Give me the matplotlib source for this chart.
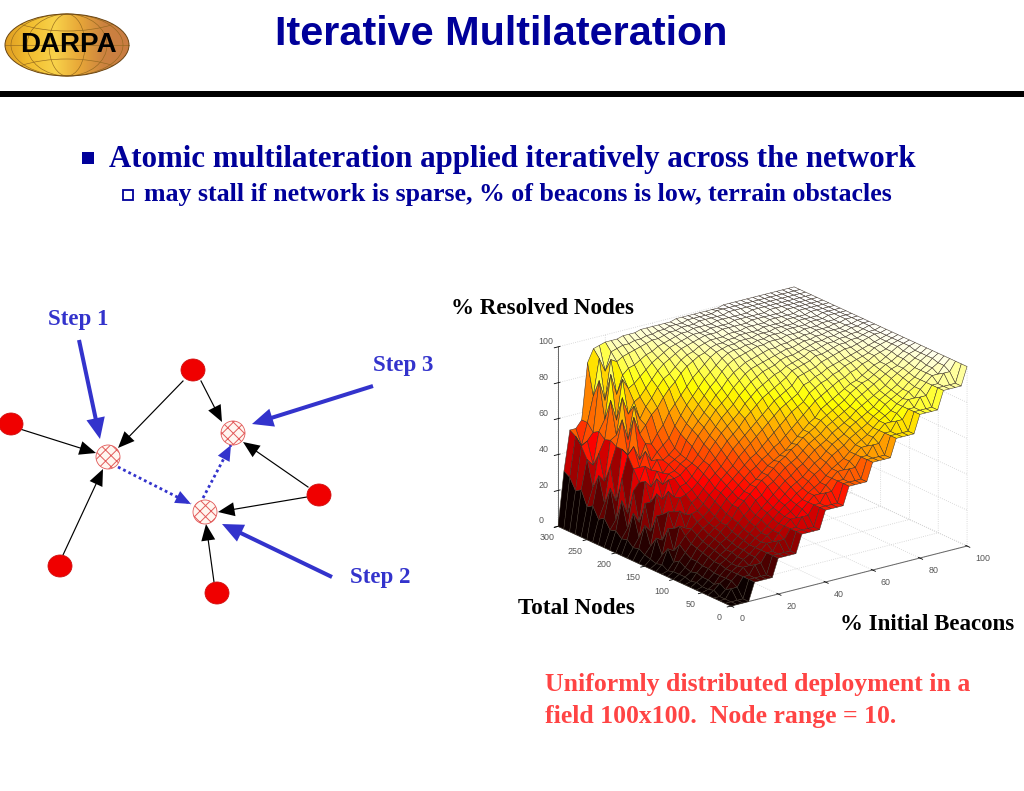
import numpy as np
import matplotlib
matplotlib.use("Agg")
import matplotlib.pyplot as plt
from matplotlib.patches import Ellipse, Rectangle
from mpl_toolkits.mplot3d import proj3d

# ------------------- data -------------------
title = "Iterative Multilateration"
bullet_main = "Atomic multilateration applied iteratively across the network"
bullet_sub = "may stall if network is sparse, % of beacons is low, terrain obstacles"
note_lines = ["Uniformly distributed deployment in a", "field 100x100.  Node range = 10."]

beacons_pct = [i * 2.5 for i in range(41)]
total_nodes = list(range(0, 301, 10))
resolved_pct = [
 [0, 0,0,0,10, 10,10,10,20, 20,20,20,30, 30,30,30,40, 40,40,40,50, 50,50,50,60, 60,60,60,70, 70,70,70,80, 80,80,80,90, 90,90,90,100],
 [0, 0,0,0,10, 10,10,10,20, 20,20,20,30, 30,30,30,40, 40,40,40,50, 50,50,50,60, 60,60,60,70, 70,70,70,80, 80,80,80,90, 90,90,90,100],
 [0, 0,5,5,10, 10,15,15,20, 20,25,25,30, 30,35,35,40, 40,45,45,50, 50,55,55,60, 60,65,65,70, 70,75,75,80, 80,85,85,90, 90,95,95,100],
 [0, 0,3,7,10, 13,13,17,20, 23,23,27,30, 33,33,37,40, 43,43,47,50, 53,53,57,60, 63,63,67,70, 73,73,77,80, 83,83,87,90, 93,93,97,100],
 [0, 2,5,7,10, 12,15,17,20, 22,25,27,30, 33,35,38,40, 43,45,47,50, 53,55,57,60, 63,65,67,70, 73,75,77,80, 82,85,87,90, 93,95,97,100],
 [0, 1,3,7,10, 12,15,18,20, 23,25,28,31, 34,37,39,42, 44,47,50,52, 55,58,60,62, 65,67,69,71, 74,76,79,81, 83,85,88,90, 93,95,98,100],
 [0, 1,4,7,11, 13,16,18,21, 24,27,30,33, 35,38,41,44, 46,48,51,54, 56,59,62,64, 66,69,71,73, 75,77,80,82, 84,86,89,91, 93,96,98,100],
 [0, 2,4,8,11, 14,16,19,22, 25,28,31,34, 37,40,43,46, 48,51,53,56, 59,61,63,66, 68,70,72,75, 77,79,81,83, 85,88,90,92, 94,96,98,100],
 [0, 1,5,8,12, 15,18,20,23, 27,30,33,37, 39,43,45,48, 51,53,55,58, 61,63,65,68, 70,72,74,76, 79,81,83,85, 87,89,91,92, 95,97,98,100],
 [0, 2,4,9,13, 16,19,22,25, 28,33,36,39, 42,45,47,50, 53,55,58,60, 63,65,67,70, 72,74,76,78, 81,83,85,86, 88,90,92,93, 95,97,99,100],
 [0, 2,5,9,14, 17,20,23,25, 29,33,36,39, 42,44,47,50, 52,54,56,59, 62,65,68,70, 74,76,78,80, 82,84,85,87, 89,91,92,94, 96,98,99,100],
 [0, 2,7,11,15, 19,22,24,27, 31,35,38,41, 44,47,49,52, 54,57,59,62, 65,68,71,74, 77,79,81,83, 85,86,88,89, 91,92,94,95, 96,98,99,100],
 [0, 1,5,14,18, 21,24,26,29, 33,37,40,43, 46,49,52,54, 57,60,63,66, 69,72,74,76, 80,82,84,85, 87,88,90,91, 92,93,94,96, 97,98,99,100],
 [0, 3,11,9,22, 20,27,28,31, 35,38,42,45, 48,52,55,58, 61,64,67,70, 73,75,77,79, 83,84,86,87, 89,90,91,92, 93,94,95,96, 97,98,99,100],
 [0, 2,6,20,19, 28,25,31,33, 37,41,44,47, 51,55,58,61, 64,67,70,73, 76,78,80,82, 86,87,88,89, 91,92,93,94, 95,95,96,97, 98,99,99,100],
 [0, 3,14,12,27, 26,33,34,36, 39,43,47,50, 54,58,61,64, 68,71,74,77, 79,81,83,85, 88,89,90,91, 93,93,94,95, 96,96,97,97, 98,99,99,100],
 [0, 4,8,24,24, 36,32,37,38, 41,45,48,53, 57,61,64,67, 70,74,77,80, 82,84,86,87, 89,90,91,92, 94,94,95,96, 96,97,97,98, 98,99,100,100],
 [0, 6,18,14,34, 30,40,40,41, 44,46,50,55, 59,63,67,70, 73,77,80,83, 85,87,88,89, 91,92,92,93, 94,95,96,96, 97,97,98,98, 99,99,100,100],
 [0, 5,10,28,28, 40,36,41,42, 45,47,53,58, 62,66,70,73, 76,80,83,86, 88,89,90,91, 92,93,94,94, 95,96,96,97, 97,98,98,98, 99,99,100,100],
 [0, 8,22,16,38, 34,42,40,44, 46,48,55,60, 64,68,72,76, 79,83,86,88, 90,91,92,93, 94,94,95,95, 96,96,97,97, 98,98,98,99, 99,100,100,100],
 [0, 7,12,32,36, 44,41,46,45, 47,50,57,62, 67,71,75,79, 82,86,89,91, 92,93,94,95, 95,96,96,96, 97,97,97,98, 98,98,99,99, 99,100,100,100],
 [0, 10,26,18,42, 42,50,44,48, 51,54,60,65, 70,74,78,82, 85,88,91,93, 94,94,95,95, 96,96,97,97, 97,98,98,98, 98,99,99,99, 100,100,100,100],
 [0, 9,14,36,48, 52,44,52,51, 56,60,66,70, 74,78,82,85, 88,91,93,94, 95,95,96,96, 96,97,97,97, 98,98,98,98, 99,99,99,99, 100,100,100,100],
 [0, 14,30,22,50, 46,66,56,60, 65,68,73,77, 80,84,87,89, 91,92,94,95, 95,96,96,97, 97,97,97,98, 98,98,98,99, 99,99,99,100, 100,100,100,100],
 [0, 12,20,40,50, 64,52,70,62, 68,72,77,81, 83,86,89,91, 92,94,95,96, 96,96,97,97, 97,98,98,98, 98,99,99,99, 99,99,100,100, 100,100,100,100],
 [0, 18,34,30,52, 54,74,64,70, 72,76,80,84, 87,89,91,93, 94,95,96,97, 97,97,98,98, 98,98,98,99, 99,99,99,99, 99,100,100,100, 100,100,100,100],
 [0, 16,26,44,51, 72,60,82,76, 78,81,84,87, 89,91,93,94, 95,96,97,97, 97,98,98,98, 98,99,99,99, 99,99,99,100, 100,100,100,100, 100,100,100,100],
 [0, 24,40,36,54, 60,84,72,82, 85,86,88,90, 91,93,94,95, 96,97,97,98, 98,98,98,99, 99,99,99,99, 99,100,100,100, 100,100,100,100, 100,100,100,100],
 [0, 22,46,48,52, 80,68,90,88, 90,91,92,93, 94,95,95,96, 97,97,98,98, 98,99,99,99, 99,99,100,100, 100,100,100,100, 100,100,100,100, 100,100,100,100],
 [0, 28,50,44,56, 70,90,82,92, 93,94,94,95, 95,96,96,97, 97,98,98,98, 99,99,99,99, 99,100,100,100, 100,100,100,100, 100,100,100,100, 100,100,100,100],
 [0, 30,52,52,56, 87,94,95,96, 96,96,97,97, 97,98,98,98, 98,98,98,99, 99,99,99,99, 99,99,99,100, 100,100,100,100, 100,100,100,100, 100,100,100,100],
]

# network diagram (slide pixels)
anchor_nodes = [(193, 370), (11, 424), (319, 495), (60, 566), (217, 593)]
unknown_nodes = [(108, 457), (233, 433), (205, 512)]
black_links = [((183, 381), (118, 448)), ((201, 381), (222, 422)), ((20, 429), (96, 453)),
               ((63, 555), (103, 469)), ((308, 487), (243, 442)), ((307, 497), (218, 512)),
               ((214, 582), (206, 524))]
dotted_links = [((118, 467), (191, 504)), ((203, 498), (231, 445))]
step_arrows = [((79, 340), (100, 439)), ((373, 386), (252, 424)), ((332, 577), (222, 524))]
step_labels = [("Step 1", 48, 320), ("Step 3", 373, 366), ("Step 2", 350, 578)]

NAVY = "#00009A"
BLUE = "#3333CC"
SERIF = "Liberation Serif"
SANS = "Liberation Sans"

plt.rcParams["grid.color"] = "#cfcfcf"
plt.rcParams["grid.linestyle"] = ":"
plt.rcParams["grid.linewidth"] = 0.6
plt.rcParams["hatch.linewidth"] = 0.7

W, H = 1024, 791
fig = plt.figure(figsize=(W / 100, H / 100), dpi=100, facecolor="white")

# ------------------- slide layer -------------------
s = fig.add_axes([0, 0, 1, 1])
s.set_xlim(0, W)
s.set_ylim(H, 0)
s.axis("off")

s.text(501, 34, title, family=SANS, weight="bold", size=29.8, color=NAVY, ha="center", va="center")
s.add_patch(Rectangle((0, 91), W, 5.5, fc="black", ec="none"))

# logo
grad = np.linspace(0, 1, 128)[None, :]
logo_cmap = matplotlib.colors.LinearSegmentedColormap.from_list(
    "logo", ["#E09E22", "#F2BE30", "#F8D24A", "#E8A838", "#CC8240", "#C97C42"])
logo = Ellipse((67, 45), 124, 62, fc="none", ec="#6a4512", lw=0.7, zorder=3)
s.add_patch(logo)
img = s.imshow(grad, extent=(5, 129, 76, 14), cmap=logo_cmap, aspect="auto", zorder=2)
img.set_clip_path(logo)
s.set_xlim(0, W)
s.set_ylim(H, 0)
GRID = "#94691f"
for wd in (36, 80, 112):
    s.add_patch(Ellipse((67, 45), wd, 62, fc="none", ec=GRID, lw=0.45, zorder=2.5))
for dy, hh in ((-36, 44), (36, 44)):
    e = Ellipse((67, 45 + dy), 128, hh, fc="none", ec=GRID, lw=0.45, zorder=2.5)
    s.add_patch(e)
    e.set_clip_path(logo)
s.plot([5, 129], [45, 45], color=GRID, lw=0.45, zorder=2.5)
s.text(68, 45, "DARPA", family=SANS, weight="bold", size=20, color="black", ha="center", va="center", zorder=4)

# bullets
s.add_patch(Rectangle((82, 152), 12, 12, fc=NAVY, ec="none"))
s.text(109, 160, bullet_main, family=SERIF, weight="bold", size=22.2, color=NAVY, ha="left", va="center")
s.add_patch(Rectangle((123, 190), 10, 10, fc="none", ec=NAVY, lw=1.3))
s.text(144, 195, bullet_sub, family=SERIF, weight="bold", size=18.6, color=NAVY, ha="left", va="center")


def head(p0, p1, color, scale, hl, hw):
    s.annotate("", xy=p1, xytext=p0,
               arrowprops=dict(arrowstyle=f"-|>,head_length={hl},head_width={hw}", color=color, lw=0,
                               shrinkA=0, shrinkB=0, mutation_scale=scale))


# network
for (x0, y0), (x1, y1) in black_links:
    s.plot([x0, x1 - (x1 - x0) * 0.1], [y0, y1 - (y1 - y0) * 0.1], color="black", lw=0.85)
    head((x0, y0), (x1, y1), "black", 14, 0.85, 0.36)
for (x0, y0), (x1, y1) in dotted_links:
    s.plot([x0, x1], [y0, y1], color=BLUE, lw=2.0, ls=(0, (1, 1.1)))
    head((x0 + (x1 - x0) * 0.75, y0 + (y1 - y0) * 0.75), (x1, y1), BLUE, 14, 0.8, 0.34)
for (x0, y0), (x1, y1) in step_arrows:
    s.plot([x0, x1 - (x1 - x0) * 0.1], [y0, y1 - (y1 - y0) * 0.1], color=BLUE, lw=2.9, solid_capstyle="butt")
    head((x0, y0), (x1, y1), BLUE, 16, 0.95, 0.42)
for cx, cy in anchor_nodes:
    s.add_patch(Ellipse((cx, cy), 24, 22, fc="#F00000", ec="#D01010", lw=0.6, zorder=5))
for cx, cy in unknown_nodes:
    s.add_patch(Ellipse((cx, cy), 24, 24, fc="#FFF6F0", ec="#E25A5A", hatch="xxx", lw=0.6, zorder=5))
for lab, lx, ly in step_labels:
    s.text(lx, ly, lab, family=SERIF, weight="bold", size=16.5, color=BLUE, ha="left", va="center")

# labels
s.text(451, 309, "% Resolved Nodes", family=SERIF, weight="bold", size=16.6, color="black", ha="left", va="center")
s.text(518, 608, "Total Nodes", family=SERIF, weight="bold", size=16.7, color="black", ha="left", va="center", zorder=6)
s.text(840, 624, "% Initial Beacons", family=SERIF, weight="bold", size=16.5, color="black", ha="left", va="center")
for line, ly in zip(note_lines, (684, 717)):
    s.text(545, ly, line, family=SERIF, weight="bold", size=18.5, color="#FF4444", ha="left", va="center")

# ------------------- 3D surface -------------------
X, Y = np.meshgrid(beacons_pct, total_nodes)
Z = np.array(resolved_pct, dtype=float)

S0 = 520
ax = fig.add_axes([0.5, 0.2, S0 / W, S0 / H], projection="3d", proj_type="ortho")
ax.patch.set_alpha(0)
ax.view_init(elev=20, azim=-126.6)
ax.set_box_aspect((294, 290, 191))
ax.set_xlim(0, 100, view_margin=0)
ax.set_ylim(0, 300, view_margin=0)
ax.set_zlim(0, 100, view_margin=0)

face = plt.get_cmap("hot")(np.clip(Z / 100.0, 0, 1))
ax.plot_surface(X, Y, Z, facecolors=face, rstride=1, cstride=1, shade=False,
                edgecolor="#3a2f25", linewidth=0.36, antialiased=True)

ax.set_xticks([0, 20, 40, 60, 80, 100])
ax.set_yticks([0, 50, 100, 150, 200, 250, 300])
ax.set_zticks([0, 20, 40, 60, 80, 100])
for axis in (ax.xaxis, ax.yaxis, ax.zaxis):
    axis.set_pane_color((1, 1, 1, 0))
    axis.pane.set_edgecolor((1, 1, 1, 0))
    axis.line.set_color("#666666")
    axis.line.set_linewidth(0.7)
    axis._axinfo["tick"]["color"] = "#666666"
    axis._axinfo["tick"]["linewidth"] = {True: 0.6, False: 0.4}
ax.tick_params(labelsize=6.4, labelcolor="#555555", pad=0)
for lab in ax.get_xticklabels() + ax.get_yticklabels() + ax.get_zticklabels():
    lab.set_family(SANS)
for lab in ax.get_yticklabels():
    lab.set_va("center")
for lab in ax.get_xticklabels():
    lab.set_va("center")
    lab.set_ha("left")
for lab in ax.get_zticklabels():
    lab.set_va("bottom")
    lab.set_ha("left")


def to_px(x, y, z):
    xp, yp, _ = proj3d.proj_transform(x, y, z, ax.get_proj())
    return ax.transData.transform((xp, yp))


# place the axes so its floor corners land where the reference has them
for _ in range(3):
    fig.canvas.draw()
    pos = ax.get_position()
    size = pos.width * W
    a = to_px(100, 0, 0)
    b = to_px(0, 300, 0)
    size *= (967 - 558) / (a[0] - b[0])
    ax.set_position([pos.x0, pos.y0, size / W, size / H])
    fig.canvas.draw()
    o = to_px(0, 0, 0)
    pos = ax.get_position()
    ax.set_position([pos.x0 + (731 - o[0]) / W, pos.y0 + ((H - 606) - o[1]) / H, pos.width, pos.height])

fig.savefig("out.png", dpi=100, facecolor="white")
